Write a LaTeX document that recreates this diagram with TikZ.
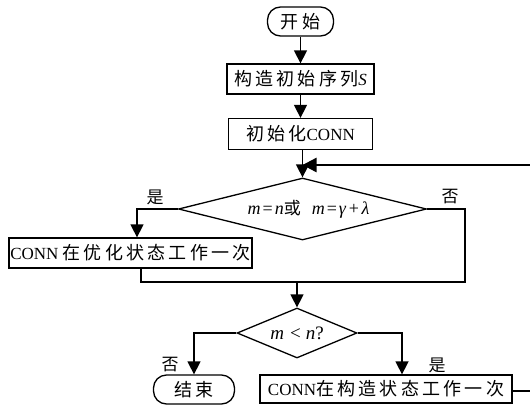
\documentclass[tikz,border=0pt]{standalone}
\usepackage{fontspec}
\setmainfont{Liberation Serif}
\newfontfamily\cjkfam[LetterSpace=18]{Noto Sans CJK SC}
\newfontfamily\cjknfam{Noto Sans CJK SC}
\newcommand{\cjk}{\fontsize{18}{20}\selectfont\cjkfam}
\newcommand{\cjkn}{\fontsize{17}{20}\selectfont\cjknfam}
\newcommand{\mfnt}{\fontsize{18}{20}\selectfont}
\usetikzlibrary{shapes.geometric,arrows.meta}
\begin{document}
\begin{tikzpicture}[x=1pt,y=-1pt,
  every node/.style={font=\fontsize{17}{20}\selectfont, inner sep=0pt},
  procbox/.style={draw, line width=1.3pt, rectangle},
  termbox/.style={draw, line width=1.3pt, rectangle, rounded corners=13pt},
  decbox/.style={draw, line width=1.3pt, diamond},
  arr/.style={line width=1.5pt, -{Triangle[length=13pt,width=13pt]}},
  conn/.style={line width=1.5pt},
  lbl/.style={font=\cjkn}
]
\useasboundingbox (0,0) rectangle (530,410);
\node[termbox, minimum width=66pt, minimum height=29pt] (start) at (300.5,21.5) {\cjk 开始};
\node[procbox, minimum width=147pt, minimum height=30pt] (seq) at (300.5,79) {{\cjk 构造初始序列}\textit{S}};
\node[procbox, minimum width=144pt, minimum height=31pt] (init) at (300.5,134) {{\cjk 初始化}CONN};
\node[decbox, aspect=4, minimum width=248pt, minimum height=62pt] (d1) at (302.5,209)
  {\hspace*{12pt}{\mfnt\textit{m}\hspace{2pt}=\hspace{2pt}\textit{n}}{\cjkn 或}\hspace{11pt}{\mfnt\textit{m}\hspace{2pt}=\hspace{2pt}\textit{γ}\hspace{2.5pt}+\hspace{2.5pt}\textit{λ}}};
\node[procbox, minimum width=243pt, minimum height=30pt] (opt) at (130.5,253) {CONN {\cjk 在优化状态工作一次}};
\node[decbox, aspect=2.4, minimum width=120pt, minimum height=50pt] (d2) at (297,333)
  {\fontsize{19}{21}\selectfont\textit{m}\hspace{6pt}<\hspace{5pt}\textit{n}?};
\node[termbox, minimum width=81pt, minimum height=29pt] (end) at (194,389.5) {\cjk 结束};
\node[procbox, minimum width=252pt, minimum height=28pt] (cons) at (386,389) {CONN{\cjk 在构造状态工作一次}};

\coordinate (fbin) at (302.5,165);
\coordinate (fbtop) at (533,165);
\coordinate (fbbot) at (533,391);
\coordinate (mr) at (465,282);
\coordinate (ml) at (141,282);
\coordinate (mc) at (297,282);

\draw[arr] (start) -- (seq);
\draw[arr] (seq) -- (init);
\draw[arr] (init.south -| d1.north) -- (d1.north);
\draw[arr] (d1.west) -| ([xshift=6.5pt]opt.north);
\draw[conn] (d1.east) -| (mr) -- (ml) -- (ml |- opt.south);
\draw[arr] (mc) -- (d2.north);
\draw[arr] (d2.west) -| (end.north);
\draw[arr] (d2.east) -| ([xshift=16pt]cons.north);
\draw[line width=1.2pt] (cons.east |- fbbot) -- (fbbot) -- (fbtop);
\draw[line width=2.4pt, -{Triangle[length=14pt,width=14pt]}] (fbtop) -- (fbin);

\node[lbl] (l1) at (155,197) {是};
\node[lbl] (l2) at (450,197) {否};
\node[lbl] (l3) at (170,365) {否};
\node[lbl] (l4) at (437,365) {是};
\end{tikzpicture}
\end{document}
